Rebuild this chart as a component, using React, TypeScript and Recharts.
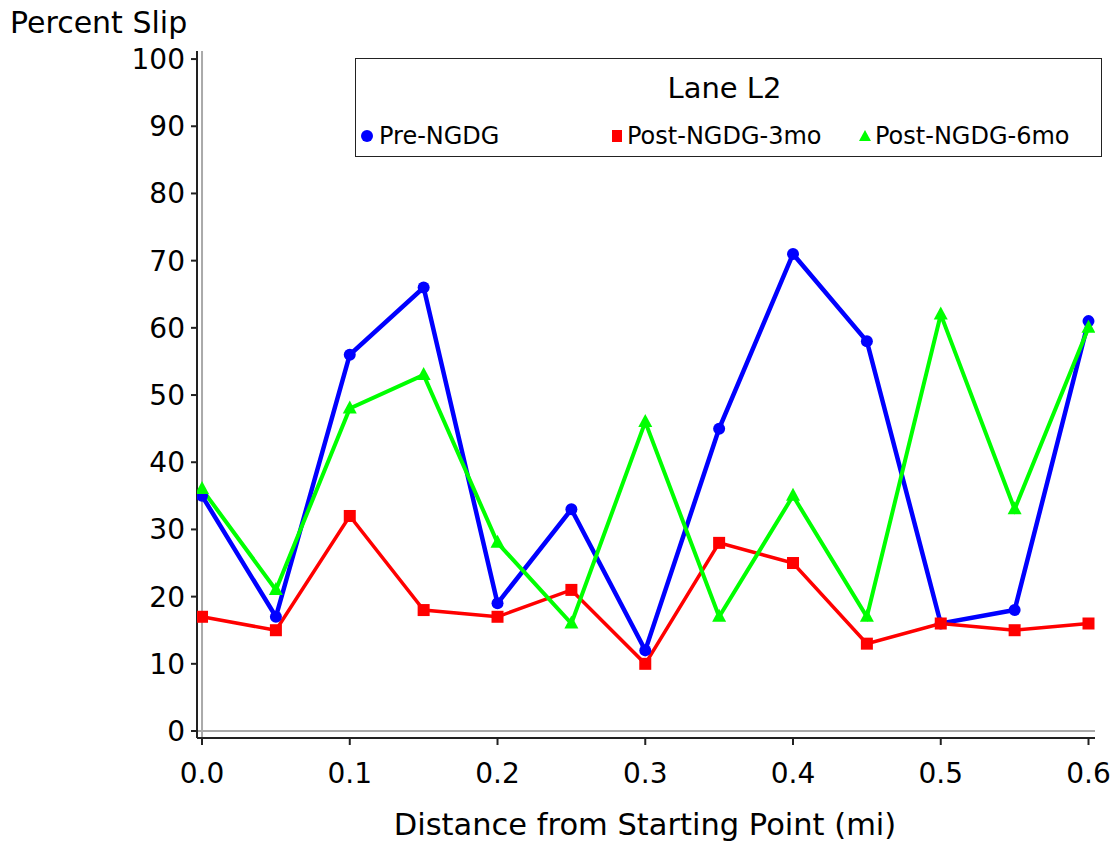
import React from 'react';
import { LineChart, Line, XAxis, YAxis, ReferenceLine, Label } from 'recharts';

const distances = [0, 0.05, 0.1, 0.15, 0.2, 0.25, 0.3, 0.35, 0.4, 0.45, 0.5, 0.55, 0.6];
const preNGDG = [35, 17, 56, 66, 19, 33, 12, 45, 71, 58, 16, 18, 61];
const post3mo = [17, 15, 32, 18, 17, 21, 10, 28, 25, 13, 16, 15, 16];
const post6mo = [36, 21, 48, 53, 28, 16, 46, 17, 35, 17, 62, 33, 60];
const xTicks = [0, 0.1, 0.2, 0.3, 0.4, 0.5, 0.6];
const yTicks = [0, 10, 20, 30, 40, 50, 60, 70, 80, 90, 100];

const data = distances.map((d, i) => ({
  x: d,
  pre: preNGDG[i],
  p3: post3mo[i],
  p6: post6mo[i],
}));

const FONT = '"DejaVu Sans", Verdana, sans-serif';
const BLUE = '#0000FF';
const RED = '#FF0000';
const GREEN = '#00FF00';

const CircleDot = (props: any) => {
  const { cx, cy } = props;
  if (cx == null || cy == null) return null;
  return <circle cx={cx} cy={cy} r={6} fill={BLUE} />;
};
const SquareDot = (props: any) => {
  const { cx, cy } = props;
  if (cx == null || cy == null) return null;
  return <rect x={cx - 6} y={cy - 6} width={12} height={12} fill={RED} />;
};
const TriDot = (props: any) => {
  const { cx, cy } = props;
  if (cx == null || cy == null) return null;
  return <polygon points={`${cx},${cy - 8} ${cx + 7},${cy + 5} ${cx - 7},${cy + 5}`} fill={GREEN} />;
};

const LegendBox = () => (
  <div
    style={{
      position: 'absolute',
      left: 355,
      top: 58,
      width: 745,
      height: 97,
      border: '1px solid #222',
      background: '#fff',
      fontFamily: FONT,
      boxSizing: 'content-box',
    }}
  >
    <div style={{ position: 'absolute', top: 12, left: -4, width: '100%', textAlign: 'center', fontSize: 29, color: '#000' }}>
      Lane L2
    </div>
    <div style={{ position: 'absolute', top: 63, left: 5, fontSize: 24, display: 'flex', alignItems: 'center', color: '#000' }}>
      <svg width={14} height={14} style={{ marginRight: 4 }}><circle cx={6} cy={7} r={6} fill={BLUE} /></svg>
      Pre-NGDG
    </div>
    <div style={{ position: 'absolute', top: 63, left: 255, fontSize: 24, display: 'flex', alignItems: 'center', color: '#000' }}>
      <svg width={14} height={14} style={{ marginRight: 2 }}><rect x={1} y={1} width={10} height={12} fill={RED} /></svg>
      Post-NGDG-3mo
    </div>
    <div style={{ position: 'absolute', top: 63, left: 503, fontSize: 24, display: 'flex', alignItems: 'center', color: '#000' }}>
      <svg width={14} height={14} style={{ marginRight: 2 }}><polygon points="6,1 12,12 0,12" fill={GREEN} /></svg>
      Post-NGDG-6mo
    </div>
  </div>
);

export default function App() {
  return (
    <div style={{ position: 'absolute', left: 0, top: 0, width: 1120, height: 843, background: '#fff', overflow: 'hidden' }}>
      <LineChart
        width={1120}
        height={843}
        data={data}
        margin={{ top: 51, right: 25, left: 0, bottom: 0 }}
        style={{ fontFamily: FONT }}
      >
        <XAxis
          dataKey="x"
          type="number"
          domain={[-0.0034, 0.6044]}
          ticks={xTicks}
          tickFormatter={(v: number) => v.toFixed(1)}
          height={105}
          tickSize={7}
          tickMargin={18}
          axisLine={{ stroke: '#222', strokeWidth: 2 }}
          tickLine={{ stroke: '#222', strokeWidth: 2 }}
          tick={{ fill: '#000', fontSize: 28, fontFamily: FONT }}
          allowDataOverflow
        >
          <Label
            content={() => (
              <text x={645} y={835} fontSize={30.5} fill="#000" fontFamily={FONT} textAnchor="middle">
                Distance from Starting Point (mi)
              </text>
            )}
          />
        </XAxis>
        <YAxis
          type="number"
          domain={[-1.04, 101.2]}
          ticks={yTicks}
          width={197}
          tickSize={6}
          tickMargin={6}
          axisLine={{ stroke: '#222', strokeWidth: 2 }}
          tickLine={{ stroke: '#222', strokeWidth: 2 }}
          tick={{ fill: '#000', fontSize: 28, fontFamily: FONT }}
          allowDataOverflow
        >
          <Label
            content={() => (
              <text x={10} y={33} fontSize={30} fill="#000" fontFamily={FONT}>
                Percent Slip
              </text>
            )}
          />
        </YAxis>
        <ReferenceLine y={0} stroke="#aaa" strokeWidth={2} />
        <ReferenceLine x={0} stroke="#aaa" strokeWidth={2} />
        <Line dataKey="pre" stroke={BLUE} strokeWidth={4.5} dot={<CircleDot />} activeDot={false} isAnimationActive={false} />
        <Line dataKey="p3" stroke={RED} strokeWidth={3.5} dot={<SquareDot />} activeDot={false} isAnimationActive={false} />
        <Line dataKey="p6" stroke={GREEN} strokeWidth={4} dot={<TriDot />} activeDot={false} isAnimationActive={false} />
      </LineChart>
      <LegendBox />
    </div>
  );
}
